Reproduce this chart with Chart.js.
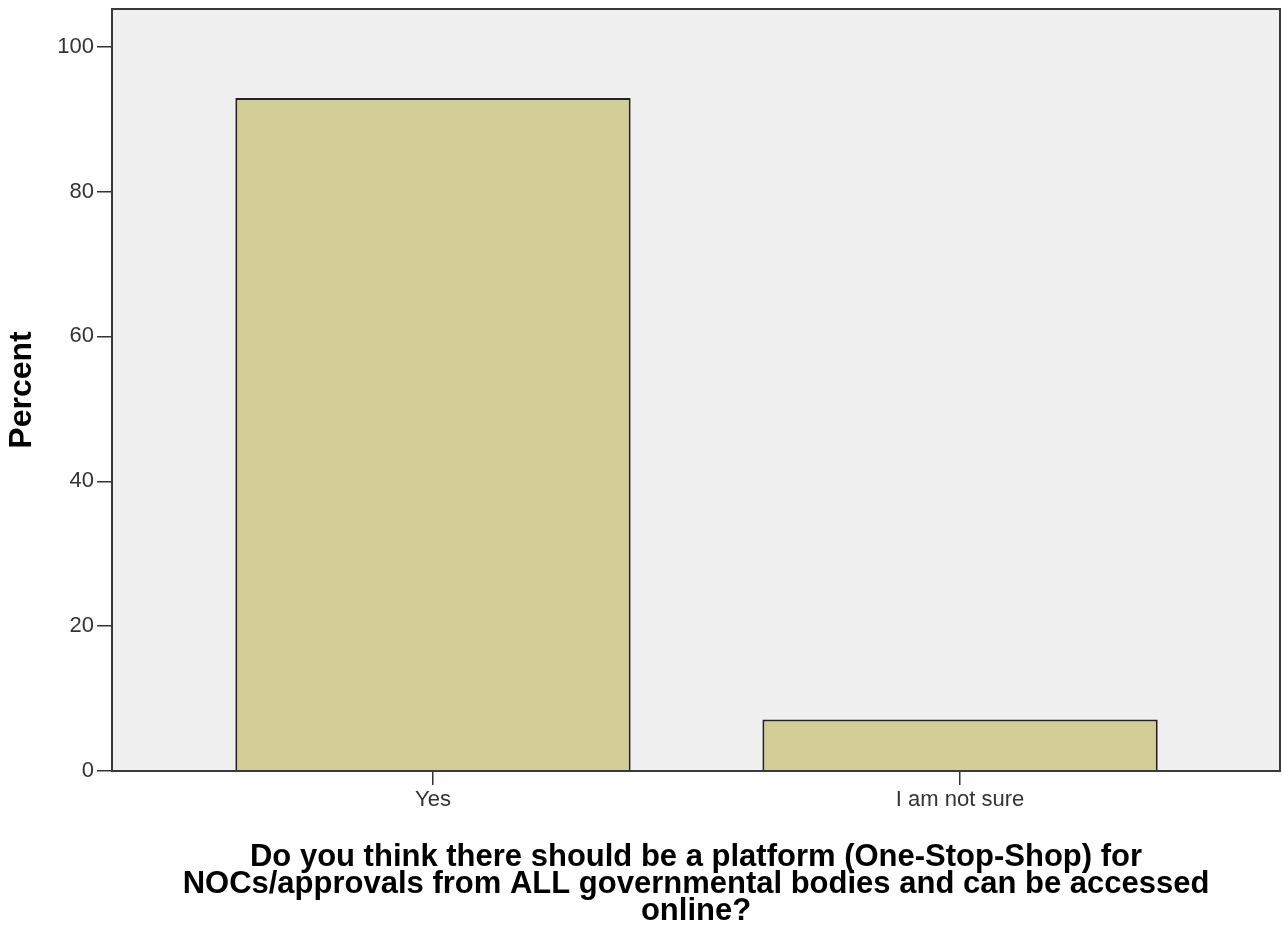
<!DOCTYPE html>
<html>
<head>
<meta charset="utf-8">
<script src="https://cdn.jsdelivr.net/npm/chart.js@4.4.1/dist/chart.umd.min.js"></script>
<style>
  body { margin: 0; background: #ffffff; }
  canvas { display: block; }
</style>
</head>
<body>
<canvas id="mainChart" width="1282" height="929"></canvas>
<script>
const categorias = ['Yes', 'I am not sure'];
const percentuais = [92.9, 7.1];
const yTicks = [0, 20, 40, 60, 80, 100];
const tituloX = ['Do you think there should be a platform (One-Stop-Shop) for',
    'NOCs/approvals from ALL governmental bodies and can be accessed',
    'online?'];
const tituloY = 'Percent';

// fundo cinza e moldura da area do grafico
const moldura = {
    id: 'moldura',
    beforeDatasetsDraw(chart) {
        const a = chart.chartArea, ctx = chart.ctx;
        ctx.save();
        ctx.fillStyle = '#f0f0f0';
        ctx.fillRect(a.left, a.top, a.right - a.left, a.bottom - a.top);
        ctx.restore();
    },
    afterDatasetsDraw(chart) {
        const a = chart.chartArea, ctx = chart.ctx;
        ctx.save();
        ctx.strokeStyle = '#3a3a3a';
        ctx.lineWidth = 2;
        ctx.strokeRect(a.left, a.top, a.right - a.left, a.bottom - a.top);
        ctx.restore();
    }
};

const semPadding = s => { s.paddingTop = 0; s.paddingBottom = 0; s.paddingLeft = 0; s.paddingRight = 0; };

const ctx = document.getElementById('mainChart').getContext('2d');
const chart = new Chart(ctx, {
    type: 'bar',
    data: {
        datasets: [{
            data: categorias.map((c, i) => ({x: i, y: percentuais[i]})),
            backgroundColor: '#d3ce97',
            borderColor: '#222',
            borderWidth: 2,
            barPercentage: 0.75,
            categoryPercentage: 1.0
        }]
    },
    options: {
        responsive: false,
        animation: false,
        devicePixelRatio: 1,
        layout: { padding: { top: 9, right: 2, left: 0, bottom: 0 } },
        scales: {
            x: {
                type: 'linear',
                offset: false,
                min: -0.609,
                max: 1.607,
                afterBuildTicks: s => { s.ticks = categorias.map((c, i) => ({value: i})); },
                afterFit: s => { s.height = 158; semPadding(s); },
                grid: { offset: false, drawOnChartArea: false, drawTicks: true, tickLength: 14, color: '#333', lineWidth: 1.5 },
                border: { display: false },
                ticks: {
                    autoSkip: false,
                    maxRotation: 0,
                    padding: 2,
                    color: '#333',
                    font: { family: 'Liberation Sans, Arial', size: 22 },
                    callback: v => categorias[v]
                },
                title: {
                    display: true,
                    text: tituloX,
                    color: '#000',
                    padding: { top: 0, bottom: 4 },
                    font: { family: 'Liberation Sans, Arial', size: 31, weight: 'bold', lineHeight: '27px' }
                }
            },
            y: {
                min: 0,
                max: 105.2,
                afterBuildTicks: s => { s.ticks = yTicks.map(v => ({value: v})); },
                afterFit: s => { s.width = 112; semPadding(s); },
                grid: { drawOnChartArea: false, drawTicks: true, tickLength: 15, color: '#333', lineWidth: 1.5 },
                border: { display: false },
                ticks: {
                    padding: 3,
                    color: '#333',
                    font: { family: 'Liberation Sans, Arial', size: 22 }
                },
                title: {
                    display: true,
                    text: tituloY,
                    color: '#000',
                    padding: { top: 3, bottom: 0 },
                    font: { family: 'Liberation Sans, Arial', size: 32, weight: 'bold' }
                }
            }
        },
        plugins: {
            legend: { display: false },
            tooltip: { enabled: false }
        }
    },
    plugins: [moldura]
});
</script>
</body>
</html>
